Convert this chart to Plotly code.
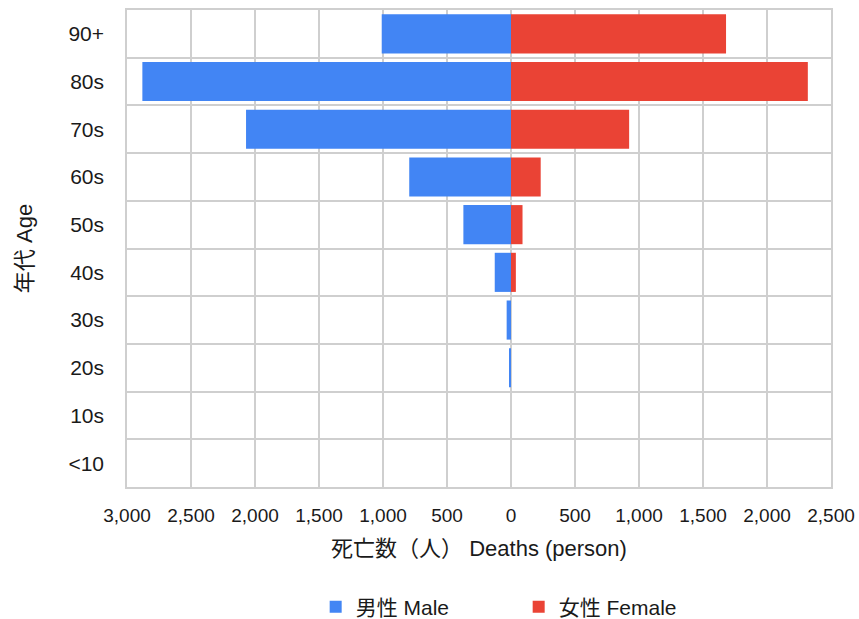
import plotly.graph_objects as go

# Age bands (bottom to top) and deaths by sex
age_groups = ["<10", "10s", "20s", "30s", "40s", "50s", "60s", "70s", "80s", "90+"]
male_deaths = [0, 0, 12, 34, 127, 372, 795, 2070, 2880, 1010]
female_deaths = [0, 0, 0, 0, 38, 90, 232, 923, 2319, 1680]

x_ticks = [-3000, -2500, -2000, -1500, -1000, -500, 0, 500, 1000, 1500, 2000, 2500]
x_tick_text = [f"{abs(v):,}" for v in x_ticks]

FONT = "Liberation Sans, Arial, Noto Sans CJK JP, sans-serif"
GRID = "#cfcfcf"

fig = go.Figure()
fig.add_trace(go.Bar(
    y=age_groups, x=[-v for v in male_deaths], orientation="h",
    name="男性 Male", marker=dict(color="#4285F4", line=dict(width=0)),
    customdata=male_deaths, hovertemplate="%{y}: %{customdata}<extra>男性 Male</extra>",
))
fig.add_trace(go.Bar(
    y=age_groups, x=female_deaths, orientation="h",
    name="女性 Female", marker=dict(color="#EA4335", line=dict(width=0)),
    hovertemplate="%{y}: %{x}<extra>女性 Female</extra>",
))

fig.update_layout(
    width=859, height=619,
    margin=dict(l=127, r=28, t=10, b=132, autoexpand=False),
    barmode="relative", bargap=0.18,
    plot_bgcolor="white", paper_bgcolor="white",
    font=dict(family=FONT, size=19, color="#1a1a1a"),
    showlegend=True,
    legend=dict(orientation="h", x=0.268, xanchor="left", y=-0.252, yanchor="middle",
                font=dict(size=21), itemwidth=30, traceorder="normal",
                entrywidthmode="pixels", entrywidth=158),
    xaxis=dict(
        range=[-3000, 2500], tickvals=x_ticks, ticktext=x_tick_text,
        showgrid=True, gridcolor=GRID, gridwidth=1.5,
        zeroline=True, zerolinecolor=GRID, zerolinewidth=1.5,
        showline=True, linecolor=GRID, linewidth=1.5, mirror=True,
        ticks="", ticklabelstandoff=10, tickfont=dict(size=19), automargin=False,
        title=dict(text="死亡数（人） Deaths (person)", font=dict(size=22), standoff=16),
        fixedrange=True,
    ),
    yaxis=dict(
        type="category", categoryorder="array", categoryarray=age_groups,
        tickson="boundaries", showgrid=True, gridcolor=GRID, gridwidth=1.5,
        showline=True, linecolor=GRID, linewidth=1.5, mirror=True,
        ticks="", ticklabelstandoff=17, tickfont=dict(size=21), automargin=False,
        title=dict(text="年代 Age", font=dict(size=22), standoff=30),
        fixedrange=True,
    ),
)

fig.write_html("out.html")
